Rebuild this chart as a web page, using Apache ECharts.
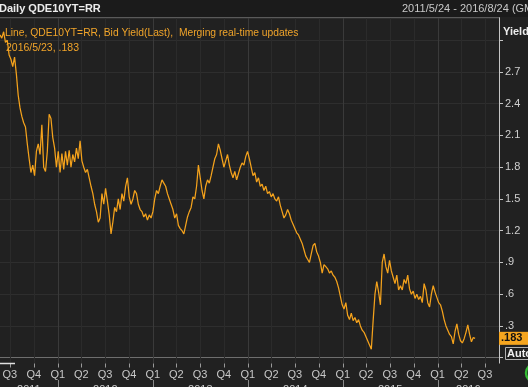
<!DOCTYPE html>
<html><head><meta charset="utf-8">
<script src="https://cdn.jsdelivr.net/npm/echarts@6/dist/echarts.min.js"></script>
<style>html,body{margin:0;padding:0;background:#212121;overflow:hidden}#c{width:528px;height:387px}</style>
</head><body><div id="c"></div>
<script>
// ---- data ----
const seriesStart = [2011, 4, 24];        // first weekly observation (2011/5/24)
const axisRange = [[2011, 4, 24], [2016, 7, 24]];
const yields = [
  3.05, 3.02, 3.08, 2.98, 3.00,
  2.86, 2.82, 2.75, 2.84, 2.68,
  2.48, 2.36, 2.28, 2.22, 2.18,
  2.02, 1.88, 1.75, 1.82, 1.72,
  1.95, 2.02, 1.92, 2.20, 1.80,
  1.76, 1.95, 2.30, 2.26, 2.08,
  1.98, 1.80, 1.95, 1.75, 1.93,
  1.78, 1.95, 1.82, 1.96, 1.80,
  1.92, 1.85, 1.98, 1.88, 2.05,
  1.86, 1.80, 1.75, 1.78, 1.70,
  1.62, 1.55, 1.45, 1.38, 1.28,
  1.32, 1.55, 1.45, 1.60, 1.48,
  1.35, 1.17, 1.28, 1.42, 1.38,
  1.50, 1.40, 1.55, 1.48, 1.62,
  1.70, 1.52, 1.45, 1.50, 1.58,
  1.55, 1.45, 1.40, 1.38, 1.33,
  1.36, 1.30, 1.35, 1.32, 1.38,
  1.50, 1.58, 1.55, 1.62, 1.68,
  1.65, 1.62, 1.55, 1.50, 1.45,
  1.40, 1.32, 1.36, 1.25, 1.22,
  1.20, 1.17, 1.25, 1.33, 1.38,
  1.42, 1.52, 1.50, 1.62, 1.82,
  1.70, 1.58, 1.50, 1.62, 1.68,
  1.65, 1.72, 1.80, 1.88, 1.92,
  2.02, 1.96, 1.88, 1.80, 1.86,
  1.92, 1.82, 1.75, 1.70, 1.76,
  1.68, 1.74, 1.80, 1.84, 1.82,
  1.90, 1.95, 1.88, 1.80, 1.72,
  1.75, 1.66, 1.70, 1.62, 1.64,
  1.58, 1.62, 1.55, 1.57, 1.52,
  1.55, 1.50, 1.48, 1.52, 1.44,
  1.38, 1.32, 1.35, 1.40, 1.36,
  1.30, 1.26, 1.22, 1.18, 1.16,
  1.12, 1.08, 1.02, 0.96, 0.93,
  0.90, 0.98, 1.06, 1.08, 1.00,
  0.96, 0.90, 0.80, 0.88, 0.86,
  0.84, 0.80, 0.82, 0.78, 0.76,
  0.72, 0.66, 0.58, 0.50, 0.46,
  0.52, 0.40, 0.36, 0.42, 0.35,
  0.38, 0.33, 0.36, 0.30, 0.26,
  0.24, 0.20, 0.16, 0.12, 0.08,
  0.35, 0.60, 0.72, 0.62, 0.50,
  0.90, 0.98, 0.86, 0.80, 0.92,
  0.82, 0.76, 0.70, 0.78, 0.64,
  0.68, 0.64, 0.74, 0.70, 0.78,
  0.65, 0.60, 0.63, 0.56, 0.60,
  0.55, 0.58, 0.52, 0.70, 0.64,
  0.52, 0.48, 0.60, 0.68, 0.62,
  0.57, 0.52, 0.50, 0.44, 0.36,
  0.30, 0.26, 0.22, 0.20, 0.13,
  0.25, 0.32, 0.22, 0.16, 0.14,
  0.18, 0.24, 0.31, 0.22, 0.15,
  0.19, 0.183
];
const lastValue = 0.183;
const lastLabel = '.183';
const lastDateText = '2016/5/23';
const quarterStarts = [
  [2011,6],[2011,9],
  [2012,0],[2012,3],[2012,6],[2012,9],
  [2013,0],[2013,3],[2013,6],[2013,9],
  [2014,0],[2014,3],[2014,6],[2014,9],
  [2015,0],[2015,3],[2015,6],[2015,9],
  [2016,0],[2016,3],[2016,6]
];
const years = [2011, 2012, 2013, 2014, 2015, 2016];
const yTickInterval = 0.3;
const titleText = 'Daily QDE10YT=RR';
const rangeText = '2011/5/24 - 2016/8/24 (GMT)';
const legendText = 'Line, QDE10YT=RR, Bid Yield(Last),  Merging real-time updates';

// ---- build ----
const FONT = '"Liberation Sans", Arial, sans-serif';
const t0 = new Date(seriesStart[0], seriesStart[1], seriesStart[2]);
const lineData = yields.map((v, i) => {
  const d = new Date(t0.getFullYear(), t0.getMonth(), t0.getDate() + 7 * i);
  return [d.getTime(), v];
});
const axMin = new Date(...axisRange[0]).getTime();
const axMax = new Date(...axisRange[1]).getTime();
const qTimes = quarterStarts.map(q => new Date(q[0], q[1], 1).getTime());

const chart = echarts.init(document.getElementById('c'), null, {renderer: 'canvas'});
chart.setOption({
  animation: false,
  backgroundColor: '#212121',
  grid: {left: -2, right: 29, top: 18, bottom: 29.3, containLabel: false},
  xAxis: {
    type: 'time', min: axMin, max: axMax, offset: 5.3,
    axisLine: {show: true, lineStyle: {color: '#6e6e6e', width: 1}},
    axisTick: {show: false},
    axisLabel: {show: false},
    splitLine: {show: false}
  },
  yAxis: {
    type: 'value', position: 'right', min: 0, max: 3.21, interval: yTickInterval,
    axisLine: {show: true, lineStyle: {color: '#c4c4c4', width: 1}},
    axisTick: {show: true, length: 4, lineStyle: {color: '#c4c4c4'}},
    axisLabel: {
      margin: 6, color: '#cfcfcf', fontSize: 11, fontFamily: FONT,
      formatter: v => {
        if (v < 0.1 || v > 2.85) return '';
        let s = (Math.round(v * 10) / 10).toFixed(1);
        if (s.startsWith('0')) s = s.slice(1);
        return s;
      },
      showMaxLabel: false
    },
    splitLine: {show: true, lineStyle: {color: '#2e2e2e', width: 1}}
  },
  series: [{
    type: 'line', data: lineData, symbol: 'none', z: 5,
    lineStyle: {color: '#f4a21c', width: 1.25}
  }]
});

// decorations positioned through the chart's own scales
const g = [];
const px = t => chart.convertToPixel({xAxisIndex: 0}, t);
const py = v => chart.convertToPixel({yAxisIndex: 0}, v);
const yTop = 18, yAxisLine = Math.round(py(0) + 5.3) + 0.5;
qTimes.forEach(t => {
  const x = Math.round(px(t)) + 0.5;
  const isYear = new Date(t).getMonth() === 0;
  g.push({type: 'line', z: 1, silent: true,
    shape: {x1: x, y1: yTop, x2: x, y2: yAxisLine},
    style: {stroke: isYear ? '#3a3a3a' : '#2b2b2b', lineWidth: 1}});
  g.push({type: 'line', z: 30, shape: {x1: x, y1: yAxisLine, x2: x, y2: yAxisLine + 4},
    style: {stroke: '#9a9a9a', lineWidth: 1}});
  g.push({type: 'text', z: 30, x: px(t), y: yAxisLine + 6, style: {
    text: 'Q' + (Math.floor(new Date(t).getMonth() / 3) + 1), fill: '#c8c8c8',
    font: '11px ' + FONT, textAlign: 'center', textVerticalAlign: 'top'}});
});
years.forEach(y => {
  const a = Math.max(new Date(y, 0, 1).getTime(), axMin);
  const b = Math.min(new Date(y + 1, 0, 1).getTime(), axMax);
  const cx = (px(a) + px(b)) / 2;
  g.push({type: 'text', z: 50, x: cx, y: 384, style: {text: String(y), fill: '#c8c8c8',
    font: '11px ' + FONT, textAlign: 'center', textVerticalAlign: 'top'}});
  if (y > years[0]) {
    const x = Math.round(px(new Date(y, 0, 1).getTime())) + 0.5;
    g.push({type: 'line', z: 50, shape: {x1: x, y1: 380, x2: x, y2: 387}, style: {stroke: '#8a8a8a', lineWidth: 1}});
  }
});
const axRight = 499;
// header band & frame
g.push({type: 'rect', z: 40, shape: {x: 0, y: 0, width: 528, height: 17}, style: {fill: '#1b1b1b'}});
g.push({type: 'line', z: 41, shape: {x1: 0, y1: 17.5, x2: axRight, y2: 17.5}, style: {stroke: '#5a5a5a', lineWidth: 1}});
g.push({type: 'line', z: 41, shape: {x1: axRight + 0.5, y1: 17.5, x2: axRight + 0.5, y2: yAxisLine}, style: {stroke: '#c4c4c4', lineWidth: 1}});
g.push({type: 'line', z: 41, shape: {x1: 0, y1: yAxisLine, x2: 15, y2: yAxisLine}, style: {stroke: '#e0e0e0', lineWidth: 1.5}});
g.push({type: 'text', z: 45, x: -1, y: 8.5, style: {text: titleText, fill: '#ececec', font: 'bold 11px ' + FONT, textVerticalAlign: 'middle'}});
g.push({type: 'text', z: 45, x: 402, y: 8.5, style: {text: rangeText, fill: '#c8c8c8', font: '11px ' + FONT, textVerticalAlign: 'middle'}});
g.push({type: 'text', z: 45, x: 503, y: 32, style: {text: 'Yield', fill: '#ececec', font: 'bold 11px ' + FONT, textVerticalAlign: 'middle'}});
g.push({type: 'text', z: 45, x: 5, y: 33, style: {text: legendText, fill: '#f0a42a', font: '10.3px ' + FONT, textVerticalAlign: 'middle'}});
g.push({type: 'text', z: 45, x: 6, y: 48, style: {text: lastDateText + ', ' + lastLabel, fill: '#f0a42a', font: '10.5px ' + FONT, textVerticalAlign: 'middle'}});
// last value tag
const ly = py(lastValue);
g.push({type: 'rect', z: 46, shape: {x: axRight, y: ly - 6.5, width: 29, height: 13}, style: {fill: '#f5a51f'}});
g.push({type: 'text', z: 47, x: axRight + 2, y: ly, style: {text: lastLabel, fill: '#111', font: 'bold 11px ' + FONT, textVerticalAlign: 'middle'}});
// Auto box
g.push({type: 'rect', z: 46, shape: {x: 505.5, y: 347.5, width: 24, height: 12}, style: {fill: '#1e1e1e', stroke: '#b0b0b0', lineWidth: 1}});
g.push({type: 'text', z: 47, x: 507, y: 354, style: {text: 'Auto', fill: '#f0f0f0', font: 'bold 11px ' + FONT, textVerticalAlign: 'middle'}});
g.push({type: 'circle', z: 47, shape: {cx: 535, cy: 373, r: 9}, style: {fill: 'none', stroke: '#33bb33', lineWidth: 2.5}});
chart.setOption({graphic: g});
</script></body></html>
